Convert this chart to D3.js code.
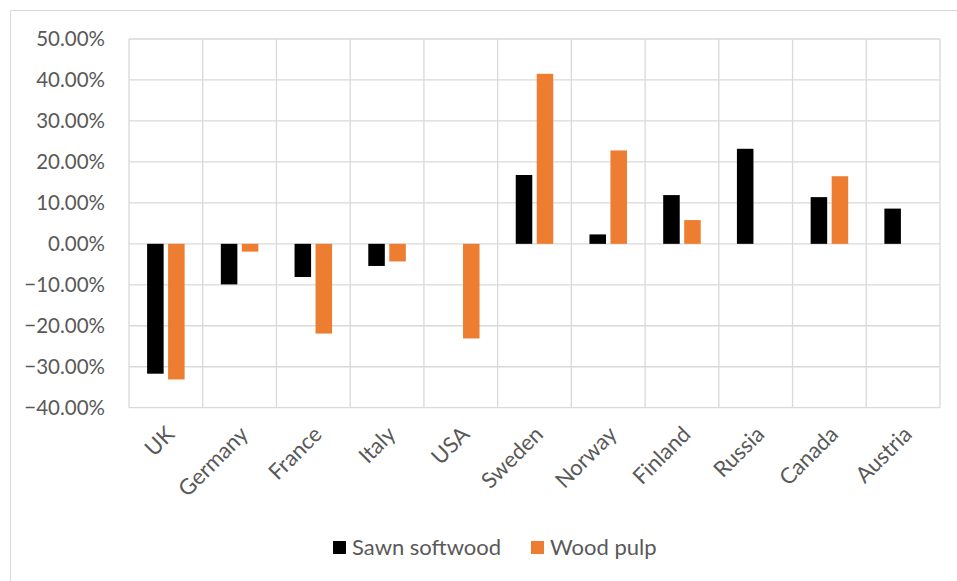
<!DOCTYPE html>
<html>
<head>
<meta charset="utf-8">
<script src="https://cdn.jsdelivr.net/npm/d3@7"></script>
<style>
  html, body { margin: 0; padding: 0; background: #fff; }
  svg { display: block; }
  text { font-family: "Lato", "Open Sans", sans-serif; fill: #595959; }
</style>
</head>
<body>
<svg id="chart" width="957" height="581"></svg>
<script>
// Year-on-year change by country, two products
const countries = ["UK", "Germany", "France", "Italy", "USA", "Sweden", "Norway", "Finland", "Russia", "Canada", "Austria"];
const sawnSoftwood = [-0.317, -0.099, -0.081, -0.054, null, 0.168, 0.023, 0.119, 0.232, 0.114, 0.086];
const woodPulp = [-0.331, -0.019, -0.219, -0.043, -0.231, 0.415, 0.228, 0.058, null, 0.165, null];
const seriesNames = ["Sawn softwood", "Wood pulp"];
const seriesColors = ["#000000", "#ED7D31"];
const yTicks = [-0.4, -0.3, -0.2, -0.1, 0, 0.1, 0.2, 0.3, 0.4, 0.5];

const svg = d3.select("#chart");
const W = 957, H = 581;
const plot = { left: 129, right: 940, top: 39, bottom: 407.7 };

// outer chart frame
svg.append("rect")
  .attr("x", 10.5).attr("y", 10.5)
  .attr("width", W).attr("height", H)
  .attr("fill", "none").attr("stroke", "#d9d9d9").attr("stroke-width", 1);

const x = d3.scaleBand().domain(countries).range([plot.left, plot.right]).paddingInner(0).paddingOuter(0);
const y = d3.scaleLinear().domain([-0.4, 0.5]).range([plot.bottom, plot.top]);

// horizontal gridlines
svg.append("g").selectAll("line").data(yTicks).join("line")
  .attr("x1", plot.left).attr("x2", plot.right)
  .attr("y1", d => y(d)).attr("y2", d => y(d))
  .attr("stroke", "#d9d9d9").attr("stroke-width", 1.3);

// vertical gridlines at category boundaries
const bounds = countries.map(c => x(c)).concat([plot.right]);
svg.append("g").selectAll("line").data(bounds).join("line")
  .attr("x1", d => d).attr("x2", d => d)
  .attr("y1", plot.top).attr("y2", plot.bottom)
  .attr("stroke", "#d9d9d9").attr("stroke-width", 1.3);

// y axis labels
const yAxis = d3.axisLeft(y).tickValues(yTicks).tickFormat(d3.format(".2%")).tickSize(0).tickPadding(0);
const gy = svg.append("g").attr("transform", `translate(105,0)`).call(yAxis);
gy.select(".domain").remove();
gy.selectAll("text").attr("font-size", 20.5).attr("font-family", "Lato").attr("fill", "#595959");

// bars: two series per category, small separation between them
const step = x.bandwidth();
const barW = step / (2 + 0.27 + 2.19);
const series = [sawnSoftwood, woodPulp];
series.forEach((vals, si) => {
  svg.append("g").selectAll("rect")
    .data(countries.map((c, i) => ({ c, v: vals[i] })).filter(d => d.v !== null))
    .join("rect")
    .attr("x", d => x(d.c) + step / 2 - 1.135 * barW + si * 1.27 * barW)
    .attr("width", barW)
    .attr("y", d => y(Math.max(0, d.v)))
    .attr("height", d => Math.abs(y(d.v) - y(0)))
    .attr("fill", seriesColors[si]);
});

// category labels, rotated
const xAxis = d3.axisBottom(x).tickSize(0).tickPadding(0);
const gx = svg.append("g").attr("transform", `translate(0,${plot.bottom})`).call(xAxis);
gx.select(".domain").remove();
gx.selectAll("text")
  .attr("font-size", 22).attr("font-family", "Lato").attr("fill", "#595959")
  .attr("text-anchor", "end")
  .attr("dy", 0)
  .attr("transform", "translate(10,28) rotate(-45)");

// legend
const legend = svg.append("g");
const legendX = [333, 531];
seriesNames.forEach((name, i) => {
  legend.append("rect").attr("x", legendX[i]).attr("y", 541).attr("width", 13).attr("height", 13).attr("fill", seriesColors[i]);
  legend.append("text").attr("x", legendX[i] + 19).attr("y", 555)
    .attr("font-size", 22).text(name);
});
</script>
</body>
</html>
